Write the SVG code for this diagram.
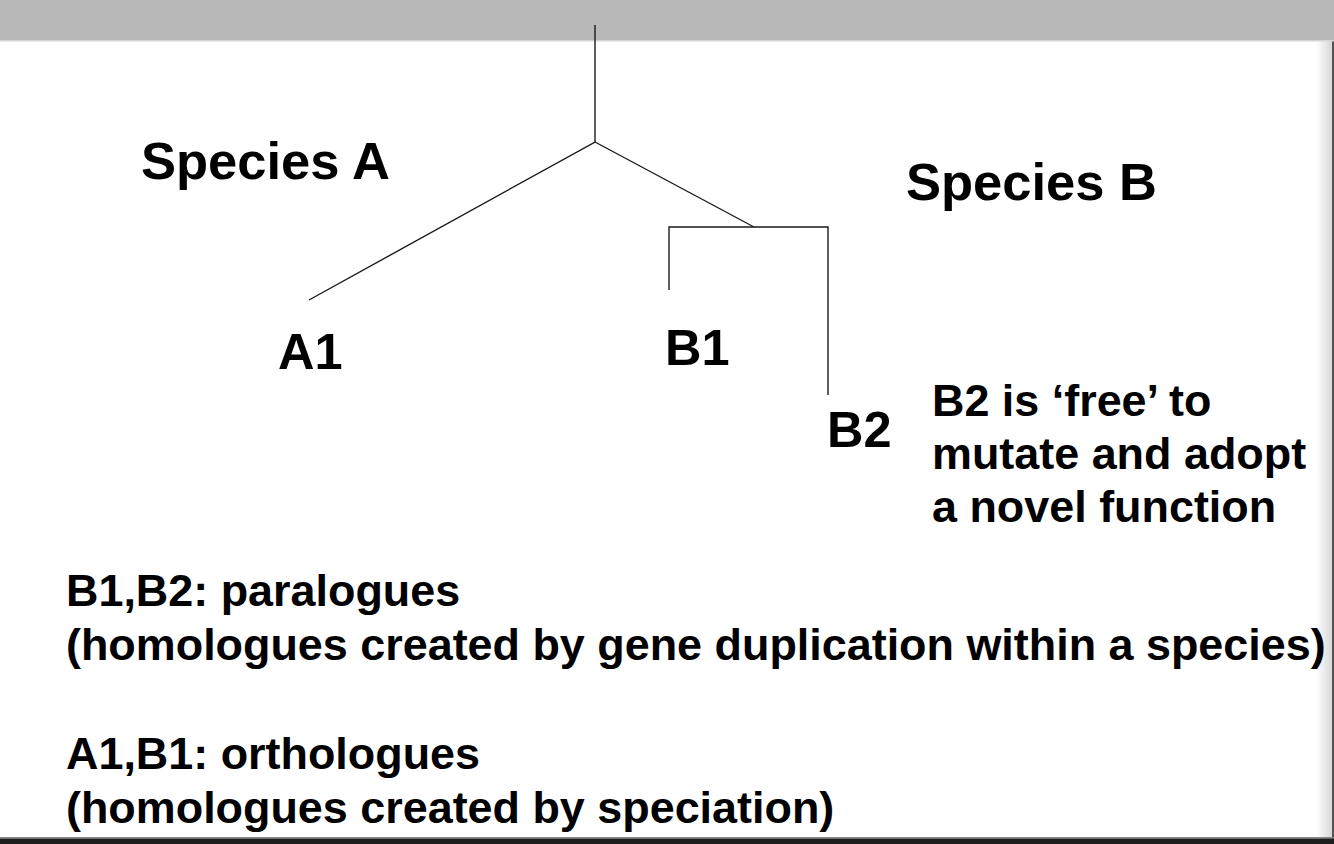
<svg xmlns="http://www.w3.org/2000/svg" width="1334" height="844" viewBox="0 0 1334 844">
<defs>
<linearGradient id="edge" x1="0" y1="0" x2="1" y2="0">
<stop offset="0" stop-color="#ffffff"/>
<stop offset="1" stop-color="#d8d8d8"/>
</linearGradient>
</defs>
<style>
.t{font-family:"Liberation Sans",Arial,sans-serif;font-weight:bold;fill:#000}
.big{font-size:52.5px}
.lab{font-size:50.5px}
.txt{font-size:44.9px}
.ln{stroke:#1a1a1a;stroke-width:1.4;fill:none}
</style>
<rect x="0" y="0" width="1334" height="844" fill="#ffffff"/>
<rect x="1316" y="40" width="16" height="799" fill="url(#edge)"/>
<rect x="1332" y="0" width="2" height="844" fill="#555"/>
<rect x="0" y="0" width="1334" height="40" fill="#b8b8b8"/>
<rect x="0" y="40" width="1334" height="1.5" fill="#d6d6d6"/>
<rect x="0" y="837" width="1334" height="1.5" fill="#888"/>
<rect x="0" y="838.5" width="1334" height="6" fill="#1e1e1e"/>
<g id="connectors">
<polyline class="ln" points="595,25 595,142 309,300"/>
<line class="ln" x1="595" y1="142" x2="754" y2="227"/>
<polyline class="ln" points="669,290 669,227 828,227 828,395"/>
</g>
<g id="speciesA"><text class="t big" x="141" y="179">Species A</text></g>
<g id="speciesB"><text class="t big" x="906" y="200">Species B</text></g>
<g id="A1"><text class="t lab" x="278" y="369">A1</text></g>
<g id="B1"><text class="t lab" x="665" y="365">B1</text></g>
<g id="B2"><text class="t lab" x="827" y="447">B2</text></g>
<g id="note">
<text class="t txt" x="932" y="416">B2 is ‘free’ to</text>
<text class="t txt" x="932" y="469">mutate and adopt</text>
<text class="t txt" x="932" y="522">a novel function</text>
</g>
<g id="legend">
<text class="t txt" x="66" y="606">B1,B2: paralogues</text>
<text class="t txt" x="66" y="660">(homologues created by gene duplication within a species)</text>
<text class="t txt" x="66" y="769">A1,B1: orthologues</text>
<text class="t txt" x="66" y="823">(homologues created by speciation)</text>
</g>
</svg>
